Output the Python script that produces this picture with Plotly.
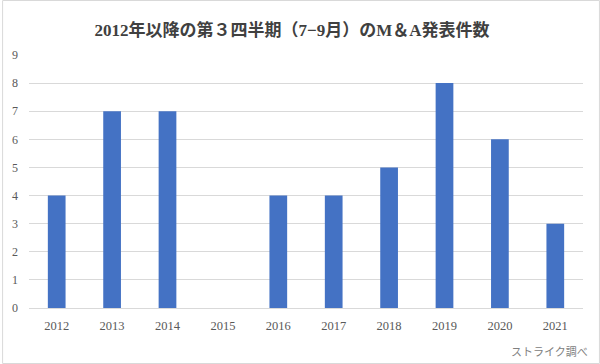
import plotly.graph_objects as go

years = ["2012", "2013", "2014", "2015", "2016", "2017", "2018", "2019", "2020", "2021"]
counts = [4, 7, 7, 0, 4, 4, 5, 8, 6, 3]
title_text = "2012年以降の第３四半期（7−9月）のM＆A発表件数"
source_text = "ストライク調べ"

W, H = 600, 364
L, R, T, B = 27, 17, 55, 56
pw, ph = W - L - R, H - T - B

font_fam = "'Liberation Serif', 'Noto Sans CJK JP', serif"

fig = go.Figure(go.Bar(x=years, y=counts, marker=dict(color="#4472C4", line=dict(width=0))))

fig.update_layout(
    width=W, height=H,
    margin=dict(l=L, r=R, t=T, b=B),
    paper_bgcolor="white", plot_bgcolor="white",
    bargap=0.68,
    showlegend=False,
    title=dict(text="<b>" + title_text + "</b>", x=292 / W, xanchor="center", y=1 - 30 / H, yanchor="middle",
               font=dict(family=font_fam, size=17, color="#404040")),
    font=dict(family=font_fam, color="#595959", size=12),
    xaxis=dict(type="category", showgrid=False, showline=False, zeroline=False,
               ticks="", tickfont=dict(size=12.5, color="#595959"), ticklabelstandoff=8),
    yaxis=dict(range=[0, 9], dtick=1, showgrid=True, gridcolor="#d9d9d9", gridwidth=1,
               zeroline=True, zerolinecolor="#d9d9d9", zerolinewidth=1, showline=False,
               ticks="", tickfont=dict(size=12, color="#595959"), ticklabelstandoff=10),
    annotations=[dict(text=source_text, xref="paper", yref="paper",
                      x=(W - 10 - L) / pw, y=(308 - 351) / ph, xanchor="right", yanchor="middle",
                      showarrow=False, font=dict(family="'Noto Sans CJK JP'", size=11, color="#808080"))],
    shapes=[dict(type="rect", xref="paper", yref="paper",
                 x0=(0.5 - L) / pw, x1=(W - 0.5 - L) / pw,
                 y0=(308 - (H - 0.5)) / ph, y1=(308 - 0.5) / ph,
                 line=dict(color="#d9d9d9", width=1), fillcolor="rgba(0,0,0,0)", layer="below")],
)

fig.write_html("out.html", config={"displayModeBar": False},
               post_script="document.body.style.margin='0';document.body.style.padding='0';")
